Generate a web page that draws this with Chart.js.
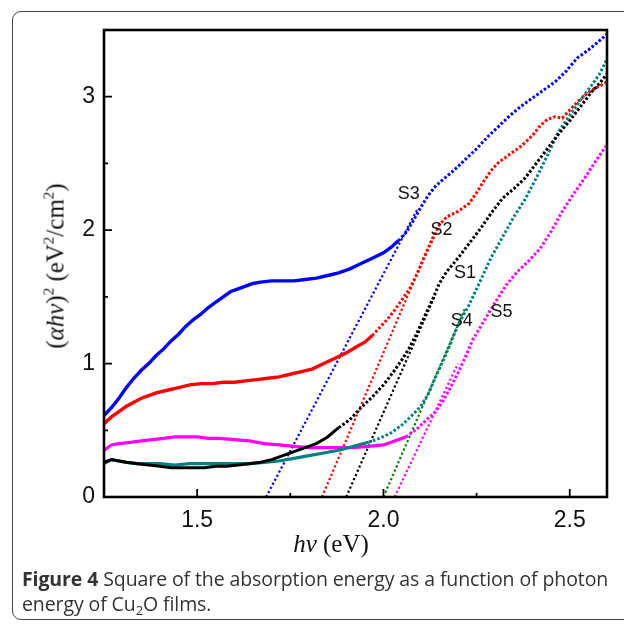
<!DOCTYPE html>
<html>
<head>
<meta charset="utf-8">
<script src="https://cdn.jsdelivr.net/npm/chart.js@4.4.1/dist/chart.umd.min.js"></script>
<style>
  html, body { margin: 0; padding: 0; background: #fff; }
  #wrap { position: relative; width: 624px; height: 624px; overflow: hidden; }
  #frame { position: absolute; left: 12px; top: 11px; width: 700px; height: 607px;
           border: 1.5px solid #444; border-radius: 9px; }
  #chartBox { position: absolute; left: 0; top: 0; width: 624px; height: 624px; }
  .axisTitle { position: absolute; white-space: nowrap; font-family: "Liberation Serif", "DejaVu Serif", serif;
               font-size: 25px; color: #111; line-height: 1; }
  #xTitle { left: 331px; top: 543px; transform: translate(-50%, -50%); }
  #yTitle { left: 55px; top: 266px; transform: translate(-50%, -50%) rotate(-90deg); }
  .axisTitle sup { font-size: 15px; vertical-align: 10px; line-height: 0; }
  #caption { position: absolute; left: 22px; top: 566px; font-family: "Open Sans", sans-serif;
             font-size: 19.5px; line-height: 25px; color: #333; white-space: nowrap; letter-spacing: -0.1px; }
  #caption sub { font-size: 13px; vertical-align: -4px; line-height: 0; }
</style>
</head>
<body>
<div id="wrap">
  <div id="frame"></div>
  <div id="chartBox"><canvas id="absChart"></canvas></div>
  <div id="xTitle" class="axisTitle"><i>hν</i> (eV)</div>
  <div id="yTitle" class="axisTitle">(<i>αhν</i>)<sup>2</sup> (eV<sup>2</sup>/cm<sup>2</sup>)</div>
  <div id="caption"><b>Figure 4</b> Square of the absorption energy as a function of photon<br>energy of Cu<sub>2</sub>O films.</div>
</div>
<script>
// photon energy (eV) and (αhν)² values, per sample
const s1X = [1.25, 1.27, 1.29, 1.31, 1.34, 1.37, 1.40, 1.43, 1.46, 1.49, 1.52, 1.55, 1.58, 1.61, 1.64, 1.67, 1.70, 1.73, 1.76, 1.79, 1.82, 1.85, 1.88, 1.91, 1.94, 1.97, 2.00, 2.03, 2.05, 2.07, 2.09, 2.11, 2.13, 2.15, 2.17, 2.20, 2.23, 2.26, 2.29, 2.32, 2.35, 2.38, 2.41, 2.44, 2.47, 2.50, 2.53, 2.56, 2.58, 2.60];
const s1Y = [0.26, 0.28, 0.27, 0.26, 0.25, 0.24, 0.23, 0.22, 0.22, 0.22, 0.22, 0.23, 0.23, 0.24, 0.25, 0.26, 0.28, 0.31, 0.34, 0.37, 0.40, 0.45, 0.52, 0.58, 0.67, 0.75, 0.84, 0.95, 1.03, 1.12, 1.23, 1.35, 1.47, 1.60, 1.69, 1.79, 1.90, 2.01, 2.13, 2.24, 2.31, 2.39, 2.50, 2.61, 2.72, 2.82, 2.93, 3.04, 3.10, 3.17];

const s2X = [1.25, 1.27, 1.29, 1.31, 1.33, 1.35, 1.37, 1.39, 1.42, 1.45, 1.48, 1.51, 1.54, 1.57, 1.60, 1.63, 1.66, 1.69, 1.72, 1.75, 1.78, 1.81, 1.84, 1.87, 1.90, 1.93, 1.95, 1.97, 1.99, 2.01, 2.03, 2.05, 2.07, 2.09, 2.11, 2.13, 2.15, 2.17, 2.20, 2.23, 2.25, 2.27, 2.29, 2.31, 2.34, 2.37, 2.40, 2.42, 2.44, 2.46, 2.48, 2.50, 2.52, 2.54, 2.56, 2.58, 2.60];
const s2Y = [0.55, 0.60, 0.64, 0.68, 0.71, 0.74, 0.76, 0.78, 0.80, 0.82, 0.84, 0.85, 0.85, 0.86, 0.86, 0.87, 0.88, 0.89, 0.90, 0.92, 0.94, 0.96, 1.00, 1.04, 1.08, 1.13, 1.16, 1.21, 1.27, 1.33, 1.40, 1.48, 1.56, 1.67, 1.80, 1.92, 2.04, 2.10, 2.14, 2.20, 2.28, 2.37, 2.45, 2.51, 2.57, 2.63, 2.71, 2.78, 2.83, 2.85, 2.84, 2.90, 2.96, 3.01, 3.05, 3.08, 3.11];

const s3X = [1.25, 1.27, 1.29, 1.31, 1.33, 1.35, 1.37, 1.39, 1.41, 1.43, 1.45, 1.47, 1.49, 1.51, 1.53, 1.55, 1.57, 1.59, 1.61, 1.63, 1.65, 1.67, 1.70, 1.73, 1.76, 1.79, 1.82, 1.85, 1.88, 1.91, 1.94, 1.97, 2.00, 2.02, 2.04, 2.06, 2.08, 2.10, 2.12, 2.14, 2.16, 2.19, 2.22, 2.25, 2.28, 2.31, 2.34, 2.37, 2.40, 2.43, 2.46, 2.49, 2.52, 2.55, 2.58, 2.60];
const s3Y = [0.61, 0.67, 0.74, 0.82, 0.89, 0.95, 1.00, 1.06, 1.11, 1.17, 1.22, 1.28, 1.33, 1.37, 1.42, 1.46, 1.50, 1.54, 1.56, 1.58, 1.60, 1.61, 1.62, 1.62, 1.62, 1.63, 1.64, 1.66, 1.68, 1.71, 1.75, 1.79, 1.83, 1.87, 1.92, 1.98, 2.07, 2.17, 2.26, 2.33, 2.38, 2.45, 2.53, 2.61, 2.70, 2.78, 2.86, 2.93, 2.99, 3.05, 3.11, 3.19, 3.29, 3.35, 3.42, 3.47];

const s4X = [1.25, 1.27, 1.29, 1.31, 1.34, 1.37, 1.40, 1.44, 1.48, 1.52, 1.56, 1.60, 1.64, 1.68, 1.72, 1.76, 1.80, 1.84, 1.88, 1.92, 1.96, 1.99, 2.02, 2.05, 2.08, 2.10, 2.12, 2.14, 2.16, 2.18, 2.20, 2.23, 2.26, 2.29, 2.32, 2.35, 2.38, 2.41, 2.44, 2.47, 2.50, 2.53, 2.56, 2.58, 2.60];
const s4Y = [0.25, 0.28, 0.27, 0.26, 0.25, 0.25, 0.25, 0.24, 0.25, 0.25, 0.25, 0.25, 0.25, 0.26, 0.27, 0.29, 0.31, 0.33, 0.35, 0.38, 0.41, 0.44, 0.48, 0.54, 0.62, 0.68, 0.77, 0.90, 1.02, 1.15, 1.29, 1.44, 1.62, 1.80, 1.95, 2.10, 2.23, 2.39, 2.56, 2.74, 2.86, 2.98, 3.09, 3.17, 3.28];

const s5X = [1.25, 1.27, 1.29, 1.32, 1.35, 1.38, 1.41, 1.44, 1.47, 1.50, 1.53, 1.56, 1.60, 1.64, 1.68, 1.72, 1.76, 1.80, 1.84, 1.88, 1.92, 1.96, 2.00, 2.03, 2.06, 2.09, 2.12, 2.14, 2.16, 2.18, 2.20, 2.22, 2.24, 2.27, 2.30, 2.33, 2.36, 2.39, 2.42, 2.45, 2.48, 2.51, 2.54, 2.57, 2.60];
const s5Y = [0.35, 0.39, 0.40, 0.41, 0.42, 0.43, 0.44, 0.45, 0.45, 0.45, 0.44, 0.44, 0.43, 0.42, 0.40, 0.39, 0.38, 0.37, 0.37, 0.37, 0.37, 0.38, 0.39, 0.42, 0.45, 0.51, 0.59, 0.64, 0.72, 0.82, 0.93, 1.05, 1.18, 1.32, 1.46, 1.59, 1.69, 1.77, 1.86, 1.99, 2.14, 2.27, 2.39, 2.52, 2.64];

// linear fits of the absorption edge: [start, end] in eV and (αhν)²
const fit1X = [1.90, 2.14], fit1Y = [0, 1.52];
const fit2X = [1.835, 2.14], fit2Y = [0, 2.0];
const fit3X = [1.685, 2.09], fit3Y = [0, 2.15];
const fit4X = [2.00, 2.22], fit4Y = [0, 1.42];
const fit5X = [2.03, 2.20], fit5Y = [0, 1.0];

const sampleNames = ['S1', 'S2', 'S3', 'S4', 'S5'];
const nameX = [2.219, 2.156, 2.068, 2.21, 2.317];
const nameY = [1.68, 2.0, 2.27, 1.32, 1.39];

const pts = (xs, ys) => xs.map((x, i) => ({ x, y: ys[i] }));

// solid and dense on the left, dotted markers where the points spread out
function curve(label, xs, ys, color, cut, width) {
  return {
    label,
    data: pts(xs, ys),
    showLine: true,
    borderColor: color,
    borderWidth: width,
    pointRadius: 0,
    tension: 0,
    segment: {
      borderDash: c => c.p0.parsed.x >= cut ? [2.6, 2] : undefined,
      borderWidth: c => c.p0.parsed.x >= cut ? 3 : width
    }
  };
}

function fitLine(label, xs, ys, color) {
  return {
    label,
    data: pts(xs, ys),
    showLine: true,
    borderColor: color,
    borderWidth: 2.2,
    borderDash: [2.2, 2.4],
    pointRadius: 0
  };
}

const frameAndTicks = {
  id: 'frameAndTicks',
  afterDatasetsDraw(chart) {
    const { ctx, chartArea: a, scales: { x, y } } = chart;
    ctx.save();
    ctx.strokeStyle = '#000';
    ctx.lineWidth = 1.8;
    ctx.beginPath();
    x.ticks.forEach(t => {
      if (t.value <= x.min + 1e-6 || t.value >= x.max - 1e-6) return;
      const px = x.getPixelForValue(t.value);
      const len = Math.abs(t.value * 2 - Math.round(t.value * 2)) < 1e-6 ? 8 : 4;
      ctx.moveTo(px, a.bottom);
      ctx.lineTo(px, a.bottom - len);
    });
    y.ticks.forEach(t => {
      if (t.value <= y.min + 1e-6 || t.value >= y.max - 1e-6) return;
      const py = y.getPixelForValue(t.value);
      const len = Number.isInteger(t.value) ? 8 : 4;
      ctx.moveTo(a.left, py);
      ctx.lineTo(a.left + len, py);
    });
    ctx.stroke();
    ctx.lineWidth = 2.6;
    ctx.strokeRect(a.left, a.top, a.right - a.left, a.bottom - a.top);

    ctx.fillStyle = '#111';
    ctx.font = '18px "Liberation Sans", Arial, sans-serif';
    ctx.textAlign = 'center';
    ctx.textBaseline = 'middle';
    sampleNames.forEach((n, i) => {
      ctx.fillText(n, x.getPixelForValue(nameX[i]), y.getPixelForValue(nameY[i]));
    });
    ctx.restore();
  }
};

const tickFont = { family: '"Liberation Sans", Arial, sans-serif', size: 23 };

new Chart(document.getElementById('absChart'), {
  type: 'scatter',
  data: {
    datasets: [
      curve('S1', s1X, s1Y, '#000000', 1.87, 3),
      curve('S4', s4X, s4Y, '#008080', 1.93, 3.2),
      curve('S5', s5X, s5Y, '#ff00ff', 2.05, 3.2),
      curve('S2', s2X, s2Y, '#ff0000', 1.97, 3.4),
      curve('S3', s3X, s3Y, '#0000ff', 2.04, 3.4),
      fitLine('S1 fit', fit1X, fit1Y, '#000000'),
      fitLine('S2 fit', fit2X, fit2Y, '#ff0000'),
      fitLine('S3 fit', fit3X, fit3Y, '#0000ff'),
      fitLine('S4 fit', fit4X, fit4Y, '#008000'),
      fitLine('S5 fit', fit5X, fit5Y, '#ff00ff')
    ]
  },
  options: {
    responsive: true,
    maintainAspectRatio: false,
    animation: false,
    layout: { padding: { top: 30, right: 17, left: 0, bottom: 0 } },
    plugins: { legend: { display: false }, tooltip: { enabled: false } },
    scales: {
      x: {
        type: 'linear', min: 1.25, max: 2.6,
        grid: { display: false, drawTicks: false },
        border: { display: false },
        ticks: {
          stepSize: 0.25, includeBounds: false, autoSkip: false, maxRotation: 0, padding: 10, color: '#111', font: tickFont,
          callback: v => (Math.abs(v * 2 - Math.round(v * 2)) < 1e-6 && v > 1.26 && v < 2.59) ? v.toFixed(1) : ''
        },
        afterFit: s => { s.height = 127; }
      },
      y: {
        min: 0, max: 3.5,
        grid: { display: false, drawTicks: false },
        border: { display: false },
        ticks: {
          stepSize: 0.5, padding: 9, color: '#111', font: tickFont,
          callback: v => Number.isInteger(v) ? String(v) : ''
        },
        afterFit: s => { s.width = 104; }
      }
    }
  },
  plugins: [frameAndTicks]
});
</script>
</body>
</html>
